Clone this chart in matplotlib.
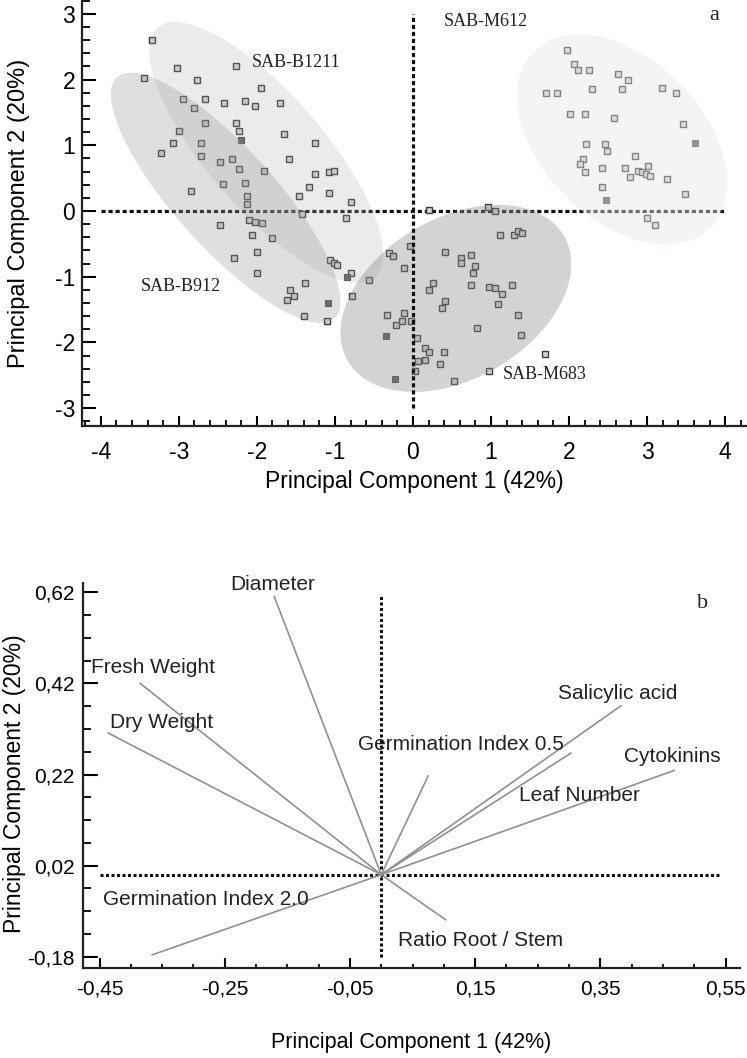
import numpy as np
import matplotlib.pyplot as plt
from matplotlib.ticker import MultipleLocator, FixedLocator, FuncFormatter

plt.rcParams['font.family'] = ['Liberation Sans', 'DejaVu Sans']
plt.rcParams['axes.unicode_minus'] = False

# --- panel a: PCA scores ---
pc1 = [-3.34, -3.02, -2.27, -3.44, -2.77, -1.95, -2.95, -2.66, -2.80, -2.42, -2.15, -2.02, -1.70,
       -2.66, -2.27, -2.23, -3.00, -3.08, -2.72, -1.65, -1.25, -3.23, -2.72, -2.32, -2.47, -2.23,
       -1.59, -1.91, -1.25, -1.08, -1.01, -2.15, -2.44, -2.85, -2.12, -1.46, -1.33, -1.08, -2.12,
       -0.80, -1.42, -0.86, -2.47, -2.10, -2.02, -1.93, -2.06, -1.80, -2.29, -2.00, -2.00, -1.06,
       -1.01, -0.97, -0.80, -0.56, -1.38, -1.57, -1.53, -1.61, -0.78, -1.40, -1.10,
       -0.31, -0.26, -0.12, -0.33, -0.22, -0.14, -0.12, 0.20, 0.96, 1.05, 1.12, 1.29, 1.35, 1.40,
       0.41, 0.62, 0.62, 0.75, 0.79, 0.77, 0.75, 0.97, 1.05, 1.14, 1.09, 1.27, 1.35, 1.39, 0.82,
       0.26, 0.20, 0.41, 0.37, -0.04, -0.02, 0.05, 0.15, 0.21, 0.40, 0.06, 0.16, 0.35, 0.03, 0.53,
       1.69, 0.97,
       1.97, 2.06, 2.12, 2.25, 2.63, 2.76, 2.29, 2.68, 3.19, 3.37, 1.71, 1.84, 2.01, 2.21, 2.57,
       3.46, 2.22, 2.46, 2.48, 2.85, 2.18, 2.14, 2.21, 2.42, 2.72, 3.01, 2.88, 2.94, 2.99, 3.04,
       2.78, 3.26, 2.42, 3.48, 3.00, 3.10]
pc2 = [2.60, 2.18, 2.20, 2.02, 2.00, 1.87, 1.70, 1.70, 1.57, 1.65, 1.67, 1.60, 1.65,
       1.34, 1.34, 1.22, 1.22, 1.04, 1.04, 1.17, 1.04, 0.89, 0.84, 0.79, 0.74, 0.64,
       0.79, 0.61, 0.56, 0.59, 0.61, 0.43, 0.41, 0.31, 0.23, 0.23, 0.36, 0.28, 0.11,
       0.13, -0.05, -0.10, -0.22, -0.14, -0.16, -0.19, -0.36, -0.41, -0.72, -0.62, -0.94, -0.74,
       -0.79, -0.82, -0.94, -1.05, -1.10, -1.20, -1.30, -1.35, -1.30, -1.60, -1.68,
       -0.64, -0.69, -0.87, -1.58, -1.73, -1.68, -1.55, 0.01, 0.06, 0.00, -0.36, -0.36, -0.31, -0.34,
       -0.62, -0.72, -0.79, -0.67, -0.84, -0.94, -1.12, -1.15, -1.17, -1.27, -1.42, -1.12, -1.58, -1.88, -1.78,
       -1.10, -1.20, -1.37, -1.47, -0.54, -1.68, -1.93, -2.08, -2.15, -2.15, -2.28, -2.26, -2.33, -2.43, -2.58,
       -2.18, -2.44,
       2.45, 2.23, 2.15, 2.15, 2.08, 2.00, 1.85, 1.85, 1.87, 1.80, 1.80, 1.80, 1.47, 1.47, 1.42,
       1.32, 1.02, 1.02, 0.91, 0.84, 0.79, 0.71, 0.59, 0.66, 0.66, 0.69, 0.61, 0.59, 0.56, 0.54,
       0.51, 0.48, 0.36, 0.26, -0.10, -0.22]
filled_pc1 = [-2.20, -1.09, -0.85, -0.34, -0.23, 3.62, 2.47]
filled_pc2 = [1.08, -1.40, -1.00, -1.90, -2.55, 1.04, 0.16]

# confidence ellipses: centre, semi-axes (in PC1 units), visual angle
groups = ['SAB-B1211', 'SAB-B912', 'SAB-M683', 'SAB-M612']
ell_cx = [-1.88, -2.40, 0.55, 2.68]
ell_cy = [0.89, 0.20, -1.33, 1.09]
ell_a = [2.12, 2.08, 1.60, 1.60]
ell_b = [0.74, 0.64, 1.03, 1.03]
ell_ang = [-49, -48, 30, -45]
ell_color = ['#acacac', '#989898', '#919191', '#e5e9e5']
ell_alpha = [0.24, 0.30, 0.40, 0.43]
group_lx = [-2.06, -3.49, 1.15, 0.40]
group_ly = [2.26, -1.15, -2.48, 2.88]

# --- panel b: loadings ---
variables = ['Diameter', 'Fresh Weight', 'Dry Weight', 'Germination Index 0.5', 'Salicylic acid',
             'Leaf Number', 'Cytokinins', 'Germination Index 2.0', 'Ratio Root / Stem']
load1 = [-0.171, -0.385, -0.436, 0.075, 0.383, 0.303, 0.468, -0.366, 0.103]
load2 = [0.611, 0.420, 0.311, 0.217, 0.371, 0.267, 0.229, -0.176, -0.099]
var_lx = [-0.241, -0.463, -0.434, -0.037, 0.282, 0.220, 0.388, -0.444, 0.027]
var_ly = [0.637, 0.454, 0.335, 0.287, 0.399, 0.173, 0.259, -0.055, -0.144]

fig = plt.figure(figsize=(7.47, 10.58), dpi=100)
ax1 = fig.add_axes([0.1098, 0.5974, 0.8902, 0.4026])
ax2 = fig.add_axes([0.1115, 0.0848, 0.879, 0.3639])

for ax in (ax1, ax2):
    for s in ('top', 'right'):
        ax.spines[s].set_visible(False)
    for s in ('left', 'bottom'):
        ax.spines[s].set_linewidth(1.6)
        ax.spines[s].set_color('#222222')

# panel a
ax1.set_xlim(-4.24, 4.28)
ax1.set_ylim(-3.27, 3.21)
dots = (0, (1.3, 0.9))
ax1.hlines(0, -4, 4, colors='#111111', linestyles=[dots], lw=2.3, zorder=1)
ax1.plot(pc1, pc2, ls='none', marker='s', ms=3.8, mew=1.0, mec='#3a3a3a', mfc='#d5d5d5', zorder=1)
ax1.plot(filled_pc1, filled_pc2, ls='none', marker='s', ms=5, mew=0.8, mec='#4a4a4a', mfc='#5a5a5a', zorder=1)

bb = ax1.get_window_extent()
k = ((3.21 + 3.27) / bb.height) / ((4.28 + 4.24) / bb.width)
t = np.linspace(0, 2 * np.pi, 300)
for cx, cy, a, b, ang, c, al in zip(ell_cx, ell_cy, ell_a, ell_b, ell_ang, ell_color, ell_alpha):
    th = np.deg2rad(ang)
    u, v = a * np.cos(t), b * np.sin(t)
    ex = cx + u * np.cos(th) - v * np.sin(th)
    ey = cy + (u * np.sin(th) + v * np.cos(th)) * k
    ax1.fill(ex, ey, color=c, alpha=al, lw=0, zorder=2)

ax1.vlines(0, -3, 3, colors='#111111', linestyles=[dots], lw=2.3, zorder=3)

for name, x, y in zip(groups, group_lx, group_ly):
    ax1.text(x, y, name, family='Liberation Serif', fontsize=13, color='#222222',
             ha='left', va='center', zorder=4)
ax1.text(3.80, 2.98, 'a', family='Liberation Serif', fontsize=16, color='#222222',
         ha='left', va='center')

ax1.set_xticks(range(-4, 5))
ax1.set_yticks(range(-3, 4))
ax1.xaxis.set_minor_locator(MultipleLocator(0.2))
ax1.yaxis.set_minor_locator(MultipleLocator(0.2))
ax1.tick_params(axis='x', which='major', direction='in', length=7, width=1.5, pad=11, labelsize=16.5)
ax1.tick_params(axis='x', which='minor', direction='in', length=4, width=1.3)
ax1.tick_params(axis='y', which='major', direction='in', length=10, width=1.5, pad=5, labelsize=16.5)
ax1.tick_params(axis='y', which='minor', direction='in', length=5.5, width=1.3)
ax1.set_xlabel('Principal Component 1 (42%)', fontsize=16.5, labelpad=4)
ax1.set_ylabel('Principal Component 2 (20%)', fontsize=17)
ax1.yaxis.set_label_coords(-0.078, 0.5)

# panel b
ax2.set_xlim(-0.476, 0.573)
ax2.set_ylim(-0.2055, 0.64)
dots2 = (0, (1.0, 0.8))
ax2.hlines(0, -0.45, 0.54, colors='#111111', linestyles=[dots2], lw=2.2, zorder=1)
ax2.vlines(0, -0.18, 0.615, colors='#111111', linestyles=[dots2], lw=2.2, zorder=1)
for x, y in zip(load1, load2):
    ax2.plot([0, x], [0, y], color='#909090', lw=1.2, zorder=2)
for name, x, y in zip(variables, var_lx, var_ly):
    ax2.text(x, y, name, fontsize=15, color='#222222', ha='left', va='center', zorder=3)
ax2.text(0.505, 0.595, 'b', family='Liberation Serif', fontsize=16, color='#222222',
         ha='left', va='center')

ax2.set_xticks(np.arange(-0.45, 0.56, 0.2))
ax2.xaxis.set_minor_locator(MultipleLocator(0.05))
ax2.set_yticks(np.arange(-0.18, 0.63, 0.2))
ax2.yaxis.set_minor_locator(FixedLocator(np.arange(-0.18, 0.63, 0.05)))
fmt = FuncFormatter(lambda v, p: f'{v:.2f}'.replace('.', ','))
ax2.xaxis.set_major_formatter(fmt)
ax2.yaxis.set_major_formatter(fmt)
ax2.tick_params(axis='x', which='major', direction='in', length=7, width=1.5, pad=8, labelsize=15)
ax2.tick_params(axis='x', which='minor', direction='in', length=3, width=1.3)
ax2.tick_params(axis='y', which='major', direction='in', length=11, width=1.5, pad=6, labelsize=15)
ax2.tick_params(axis='y', which='minor', direction='in', length=6, width=1.3)
ax2.set_xlabel('Principal Component 1 (42%)', fontsize=15.5, labelpad=24)
ax2.set_ylabel('Principal Component 2 (20%)', fontsize=16.5)
ax2.yaxis.set_label_coords(-0.088, 0.48)

fig.savefig('out.png', dpi=100)
